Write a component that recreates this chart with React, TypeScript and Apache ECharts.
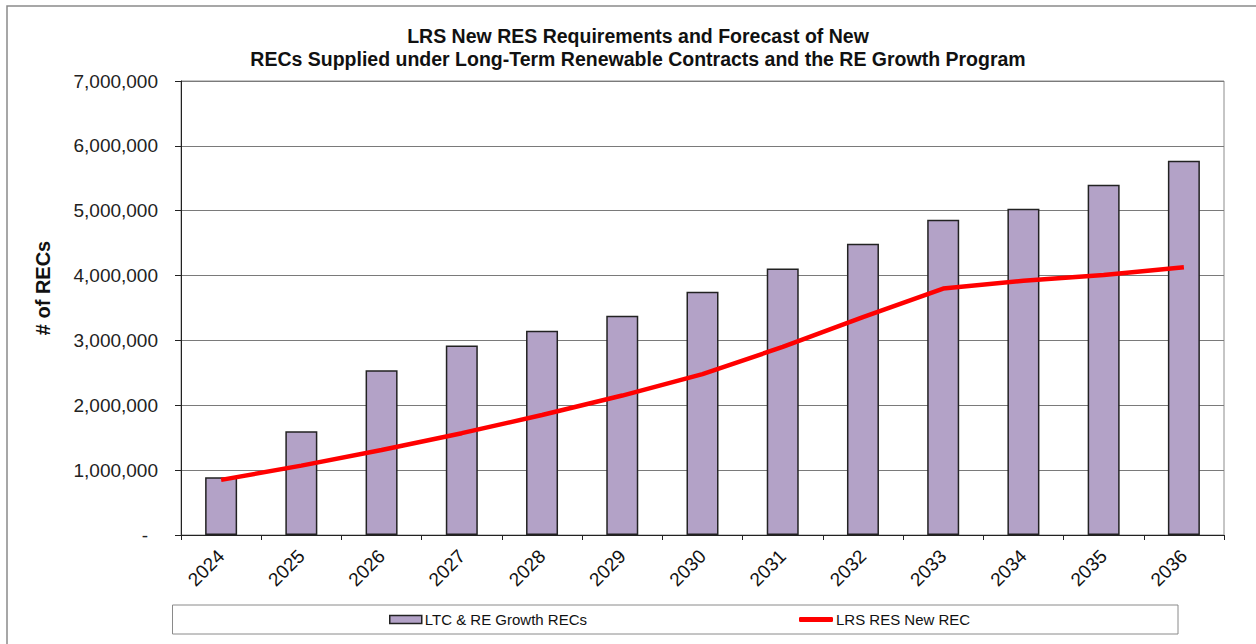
import React, { useEffect, useRef } from "react";
import * as echarts from "echarts";

const years = ["2024", "2025", "2026", "2027", "2028", "2029", "2030", "2031", "2032", "2033", "2034", "2035", "2036"];
const ltcRecs = [890000, 1600000, 2540000, 2920000, 3150000, 3380000, 3750000, 4110000, 4490000, 4860000, 5030000, 5400000, 5770000];
const lrsNewRec = [850000, 1070000, 1310000, 1570000, 1850000, 2150000, 2480000, 2900000, 3360000, 3800000, 3920000, 4010000, 4130000];
const titleLines = [
  "LRS New RES Requirements and Forecast of New",
  "RECs Supplied under Long-Term Renewable Contracts and the RE Growth Program",
];
const barName = "LTC & RE Growth RECs";
const lineName = "LRS RES New REC";
const yAxisName = "# of RECs";

const FONT = "'Liberation Sans', Arial, sans-serif";

export default function App() {
  const ref = useRef<HTMLDivElement>(null);
  useEffect(() => {
    if (!ref.current) return;
    const chart = echarts.init(ref.current, null, { renderer: "svg" });
    chart.setOption({
      animation: false,
      backgroundColor: "#ffffff",
      textStyle: { fontFamily: FONT },
      title: {
        text: titleLines.join("\n"),
        left: 633,
        top: 19,
        textAlign: "center",
        textStyle: { fontFamily: FONT, fontSize: 19.5, fontWeight: "bold", color: "#111", lineHeight: 23 },
      },
      grid: { left: 181, right: 32, top: 81, bottom: 109, show: true, borderColor: "#8c8c8c", borderWidth: 1, backgroundColor: "transparent" },
      legend: [
        {
          data: [barName],
          left: 389,
          top: 612,
          padding: 0,
          icon: "rect",
          itemWidth: 32,
          itemHeight: 8,
          itemGap: 0,
          textStyle: { fontFamily: FONT, fontSize: 15, color: "#111", padding: [0, 0, 0, -2] },
          itemStyle: { color: "#B3A2C7", borderColor: "#222", borderWidth: 1.5 },
        },
        {
          data: [lineName],
          left: 799,
          top: 612,
          padding: 0,
          icon: "roundRect",
          itemWidth: 34,
          itemHeight: 5,
          textStyle: { fontFamily: FONT, fontSize: 15, color: "#111", padding: [0, 0, 0, -2] },
          itemStyle: { color: "#ff0000", borderWidth: 0 },
        },
      ],
      graphic: [
        {
          type: "rect",
          shape: { x: 7, y: 6, width: 1300, height: 700 },
          style: { fill: "none", stroke: "#8a8a8a", lineWidth: 1.5 },
          silent: true,
        },
        {
          type: "rect",
          shape: { x: 172.5, y: 605, width: 1005.5, height: 29 },
          style: { fill: "none", stroke: "#8a8a8a", lineWidth: 1 },
          silent: true,
        },
        {
          type: "text",
          x: 43,
          y: 288,
          rotation: Math.PI / 2,
          style: {
            text: yAxisName,
            fontFamily: FONT,
            fontSize: 20,
            fontWeight: "bold",
            fill: "#111",
            align: "center",
            verticalAlign: "middle",
          },
          silent: true,
        },
      ],
      xAxis: {
        type: "category",
        data: years,
        boundaryGap: true,
        axisLine: { lineStyle: { color: "#222", width: 1 } },
        axisTick: { show: true, length: 5, lineStyle: { color: "#222" } },
        axisLabel: { rotate: 45, fontSize: 19, color: "#111", fontFamily: FONT, margin: 18 },
        splitLine: { show: false },
      },
      yAxis: {
        type: "value",
        min: 0,
        max: 7000000,
        interval: 1000000,
        axisLine: { show: true, lineStyle: { color: "#222", width: 1 } },
        axisTick: { show: true, length: 6, lineStyle: { color: "#222" } },
        axisLabel: {
          fontSize: 19,
          color: "#222",
          fontFamily: FONT,
          margin: 23,
          formatter: (v: number) => (v === 0 ? "{dash|-}" : v.toLocaleString("en-US")),
          rich: { dash: { fontSize: 19, color: "#222", fontFamily: FONT, padding: [0, 10, 0, 0] } },
        },
        splitLine: { show: true, lineStyle: { color: "#7a7a7a", width: 1 } },
      },
      series: [
        {
          name: barName,
          type: "bar",
          data: ltcRecs,
          barWidth: 32,
          itemStyle: { color: "#B3A2C7", borderColor: "#222", borderWidth: 1.5 },
          z: 2,
        },
        {
          name: lineName,
          type: "line",
          data: lrsNewRec,
          symbol: "none",
          showSymbol: false,
          lineStyle: { color: "#ff0000", width: 4.5 },
          itemStyle: { color: "#ff0000" },
          z: 3,
        },
      ],
    });
    return () => chart.dispose();
  }, []);
  return <div ref={ref} style={{ width: 1256, height: 644, position: "absolute", left: 0, top: 0 }} />;
}
